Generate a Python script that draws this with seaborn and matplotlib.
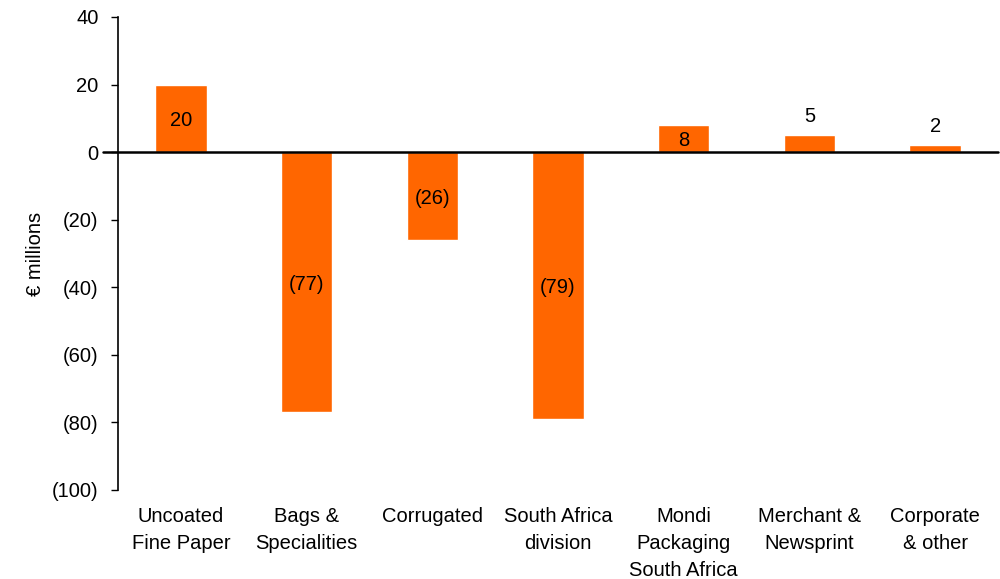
import matplotlib
matplotlib.use("Agg")
import matplotlib.pyplot as plt
import matplotlib.transforms as mtransforms
import seaborn as sns
import pandas as pd

categories = ["Uncoated\nFine Paper", "Bags &\nSpecialities", "Corrugated",
              "South Africa\ndivision", "Mondi\nPackaging\nSouth Africa",
              "Merchant &\nNewsprint", "Corporate\n& other"]
values = [20, -77, -26, -79, 8, 5, 2]
label_inside = [True, True, True, True, True, False, False]
yticks = [40, 20, 0, -20, -40, -60, -80, -100]

sns.set_theme(style="white")
plt.rcParams['font.family'] = ['Liberation Sans', 'DejaVu Sans']
plt.rcParams['text.color'] = 'black'
plt.rcParams['axes.labelcolor'] = 'black'
plt.rcParams['xtick.color'] = 'black'
plt.rcParams['ytick.color'] = 'black'

FS = 14.5
fig = plt.figure(figsize=(10, 5.79), dpi=100)
ax = fig.add_axes([0.118, 1 - 490 / 579, 0.880, (490 - 17) / 579])

df = pd.DataFrame({"cat": categories, "val": values})
sns.barplot(data=df, x="cat", y="val", color="#FF6600", saturation=1,
            width=0.41, ax=ax)

ax.set_ylim(-100, 40)
ax.set_xlim(-0.5, 6.5)
ax.set_yticks(yticks)
ax.set_yticklabels([f"({abs(v)})" if v < 0 else str(v) for v in yticks], fontsize=FS)
ax.tick_params(axis="y", direction="out", length=5, width=1, colors="black", left=True, pad=9)
ax.tick_params(axis="x", length=0, pad=12, labelsize=FS, colors="black")
for lbl in ax.get_xticklabels():
    lbl.set_linespacing(1.55)
    lbl.set_verticalalignment("top")

for s in ["top", "right", "bottom"]:
    ax.spines[s].set_visible(False)
ax.spines["left"].set_color("black")
ax.spines["left"].set_linewidth(1.2)

ax.set_xlabel("")
ax.set_ylabel("€ millions", fontsize=FS, labelpad=5, color="black")

trans = mtransforms.blended_transform_factory(ax.transAxes, ax.transData)
ax.plot([-0.017, 1.0], [0, 0], transform=trans, color="black", lw=1.8, clip_on=False, zorder=5)

for i, (v, inside) in enumerate(zip(values, label_inside)):
    txt = f"({abs(v)})" if v < 0 else str(v)
    if inside:
        ax.text(i, v / 2 - 0.6, txt, ha="center", va="center", fontsize=FS, color="black")
    else:
        ax.text(i, v + 5.5, txt, ha="center", va="center", fontsize=FS, color="black")

fig.savefig("out.png", dpi=100)
